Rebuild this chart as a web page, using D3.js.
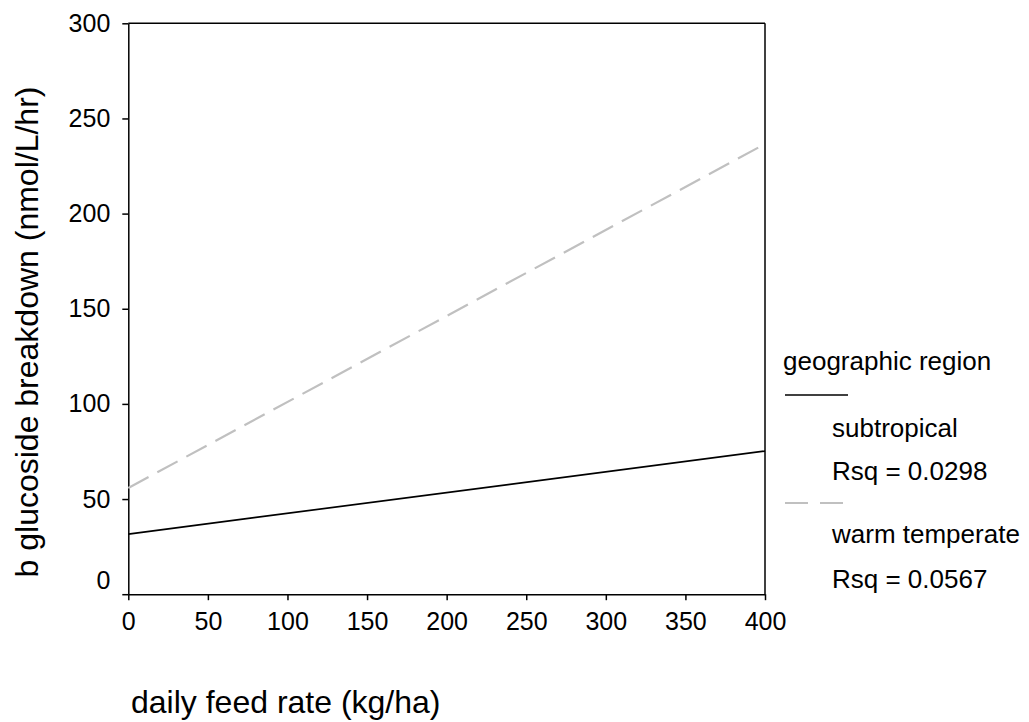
<!DOCTYPE html>
<html><head><meta charset="utf-8">
<script src="https://cdn.jsdelivr.net/npm/d3@7"></script>
<style>body{margin:0;background:#fff;} text{font-family:"Liberation Sans",Arial,sans-serif;fill:#000;}</style>
</head><body><svg id="c" width="1029" height="722"></svg>
<script>
const xTicks = [0,50,100,150,200,250,300,350,400];
const yTicks = [0,50,100,150,200,250,300];
const feedRate = [0, 400];
const subtropical = [31.6, 75.2];
const warmTemperate = [55.8, 236.6];
const seriesNames = ["subtropical", "warm temperate"];
const rsqLabels = ["Rsq = 0.0298", "Rsq = 0.0567"];

const svg = d3.select("#c");
const x = d3.scaleLinear().domain([0,400]).range([128.3,765]);
const y = d3.scaleLinear().domain([0,300]).range([594.2,23.3]);

// frame top/right
svg.append("line").attr("x1",x(0)).attr("x2",x(400)).attr("y1",y(300)).attr("y2",y(300)).attr("stroke","#000").attr("stroke-width",1.5);
svg.append("line").attr("x1",x(400)).attr("x2",x(400)).attr("y1",y(300)).attr("y2",y(0)).attr("stroke","#000").attr("stroke-width",1.5);

const xa = svg.append("g").attr("transform",`translate(0,${y(0)})`)
  .call(d3.axisBottom(x).tickValues(xTicks).tickSize(6).tickSizeOuter(0).tickPadding(12));
const ya = svg.append("g").attr("transform",`translate(${x(0)},0)`)
  .call(d3.axisLeft(y).tickValues(yTicks).tickSize(6).tickSizeOuter(0).tickPadding(12));
[xa,ya].forEach(a=>{
  a.select(".domain").attr("stroke","#000").attr("stroke-width",1.5);
  a.selectAll(".tick line").attr("stroke","#000").attr("stroke-width",1.5);
  a.selectAll(".tick text").style("font-family","'Liberation Sans',Arial,sans-serif").style("font-size","25px").attr("fill","#000");
});
ya.selectAll(".tick").filter(d=>d===0).select("text").attr("transform","translate(0,-14)");

const line = d3.line().x((d,i)=>x(feedRate[i])).y(d=>y(d));
svg.append("path").datum(subtropical).attr("d",line).attr("fill","none").attr("stroke","#000").attr("stroke-width",1.7);
svg.append("path").datum(warmTemperate).attr("d",line).attr("fill","none").attr("stroke","#c0c0c0").attr("stroke-width",2.2).attr("stroke-dasharray","23,10");

// axis titles
svg.append("text").attr("x",131).attr("y",713).style("font-size","32px").text("daily feed rate (kg/ha)");
svg.append("text").attr("transform","translate(38,332) rotate(-90)").attr("text-anchor","middle").style("font-size","32px").text("b glucoside breakdown (nmol/L/hr)");

// legend
const lg = svg.append("g");
lg.append("text").attr("x",783).attr("y",370).style("font-size","26px").text("geographic region");
lg.append("line").attr("x1",785).attr("x2",848).attr("y1",395).attr("y2",395).attr("stroke","#000").attr("stroke-width",1.7);
lg.append("text").attr("x",832).attr("y",437).style("font-size","26px").text(seriesNames[0]);
lg.append("text").attr("x",832).attr("y",480).style("font-size","26px").text(rsqLabels[0]);
lg.append("line").attr("x1",785).attr("x2",848).attr("y1",503).attr("y2",503).attr("stroke","#c0c0c0").attr("stroke-width",2.2).attr("stroke-dasharray","23,12");
lg.append("text").attr("x",832).attr("y",543).style("font-size","26px").text(seriesNames[1]);
lg.append("text").attr("x",832).attr("y",588).style("font-size","26px").text(rsqLabels[1]);
</script></body></html>
